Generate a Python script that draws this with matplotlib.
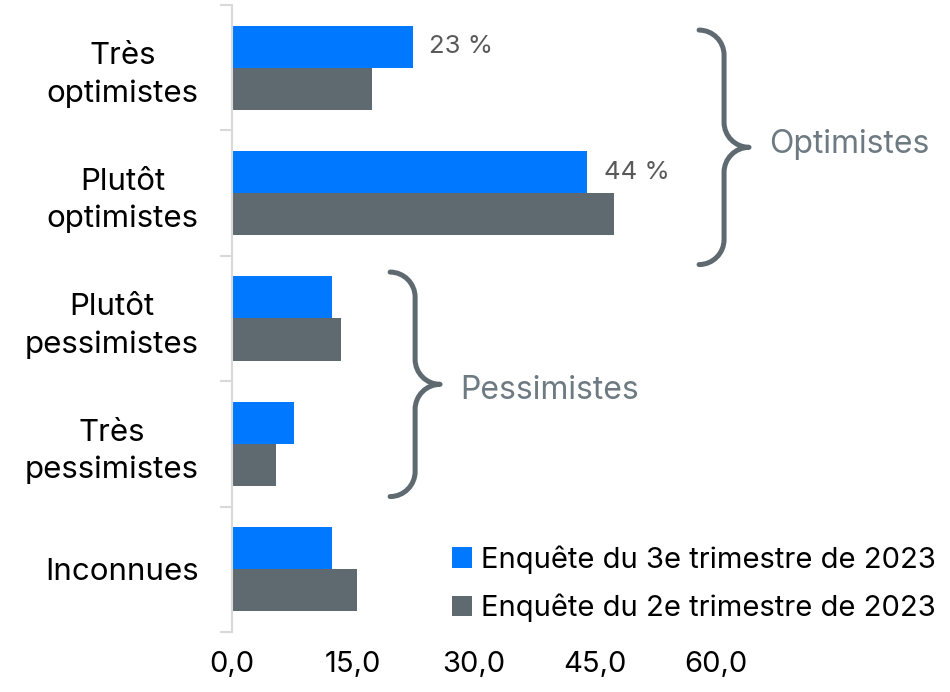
import matplotlib
matplotlib.use("Agg")
import matplotlib.pyplot as plt
from matplotlib.path import Path
from matplotlib.patches import PathPatch
import numpy as np

categories = ["Très\noptimistes", "Plutôt\noptimistes", "Plutôt\npessimistes",
              "Très\npessimistes", "Inconnues"]
q3_2023 = [22.4, 44.0, 12.4, 7.7, 12.4]
q2_2023 = [17.3, 47.4, 13.5, 5.4, 15.5]
bar_labels = ["23 %", "44 %", None, None, None]
series_names = ["Enquête du 3e trimestre de 2023", "Enquête du 2e trimestre de 2023"]
xticks = [0, 15, 30, 45, 60]
xticklabels = ["0,0", "15,0", "30,0", "45,0", "60,0"]
groups = [("Optimistes", 0, 1), ("Pessimistes", 2, 3)]

BLUE = "#0078FF"
GRAY = "#5F6A70"
FONT = ["Inter", "DejaVu Sans"]
plt.rcParams["font.family"] = FONT

W, H = 950, 692
fig = plt.figure(figsize=(W / 100, H / 100), dpi=100)
ax = fig.add_axes([232 / W, 1 - 632 / H, (716 - 232) / W, (632 - 5) / H])

y = np.arange(len(categories))
h = 0.335
ax.barh(y - h / 2, q3_2023, height=h, color=BLUE, label=series_names[0])
ax.barh(y + h / 2, q2_2023, height=h, color=GRAY, label=series_names[1])

ax.set_xlim(0, 60)
ax.set_ylim(len(categories) - 0.5, -0.5)

for s in ["top", "right", "bottom"]:
    ax.spines[s].set_visible(False)
ax.spines["left"].set_color("#D9D9D9")
ax.spines["left"].set_linewidth(1.5)

ax.set_yticks(y)
ax.set_yticklabels(categories, fontsize=22.5, linespacing=1.4, color="black")
for t in ax.get_yticklabels():
    t.set_multialignment("center")
ax.set_yticks(np.arange(-0.5, len(categories)), minor=True)
ax.tick_params(axis="y", which="major", length=0, pad=24)
ax.tick_params(axis="y", which="minor", length=8.5, width=1.5, color="#D9D9D9")

ax.set_xticks(xticks)
ax.set_xticklabels(xticklabels, fontsize=21)
ax.tick_params(axis="x", length=0, pad=14)

for i, lab in enumerate(bar_labels):
    if lab:
        ax.annotate(lab, (q3_2023[i], y[i] - h / 2), xytext=(12, 0),
                    textcoords="offset points", ha="left", va="center",
                    fontsize=18.5, color="#595959")

# braces
def brace(x0_data, ytop_data, ybot_data, r=25):
    tr = ax.transData
    x0, yt = tr.transform((x0_data, ytop_data))
    _, yb = tr.transform((x0_data, ybot_data))
    ym = (yt + yb) / 2
    xv = x0 + r
    xt = x0 + 2 * r
    k = 0.55
    verts = [
        (x0, yt),
        (x0 + k * r, yt), (xv, yt - (1 - k) * r), (xv, yt - r),
        (xv, ym + r),
        (xv, ym + (1 - k) * r), (xv + (1 - k) * r, ym), (xt, ym),
        (xv + (1 - k) * r, ym), (xv, ym - (1 - k) * r), (xv, ym - r),
        (xv, yb + r),
        (xv, yb + (1 - k) * r), (x0 + k * r, yb), (x0, yb),
    ]
    codes = [Path.MOVETO,
             Path.CURVE4, Path.CURVE4, Path.CURVE4,
             Path.LINETO,
             Path.CURVE4, Path.CURVE4, Path.CURVE4,
             Path.CURVE4, Path.CURVE4, Path.CURVE4,
             Path.LINETO,
             Path.CURVE4, Path.CURVE4, Path.CURVE4]
    p = PathPatch(Path(verts, codes), transform=None, facecolor="none",
                  edgecolor=GRAY, linewidth=3.6, capstyle="round",
                  joinstyle="round", clip_on=False)
    fig.add_artist(p)
    return xt, ym

brace_geom = {"Optimistes": (57.9, -0.30, 0.57, 3), "Pessimistes": (19.6, -0.37, 0.42, -6)}
for name, a, b in groups:
    x0, ta, tb, dy = brace_geom[name]
    xt, ym = brace(x0, a + ta, b + tb)
    fig.text((xt + 20) / W, (ym + dy) / H, name, ha="left", va="center",
             fontsize=23, color="#6E7A82")

leg = ax.legend(loc="upper left", bbox_to_anchor=(452 / W, 1 - 545 / H),
                bbox_transform=fig.transFigure, frameon=False, fontsize=21,
                handlelength=0.7, handleheight=0.7, handletextpad=0.3,
                labelspacing=0.7, borderaxespad=0, borderpad=0)

fig.savefig("out.png", dpi=100)
